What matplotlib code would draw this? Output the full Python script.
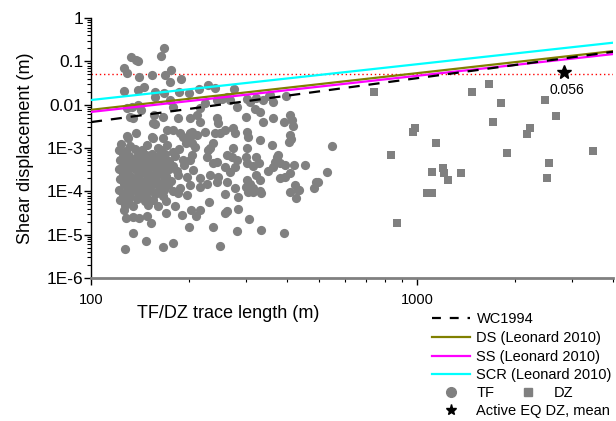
import numpy as np
import matplotlib
matplotlib.use('Agg')
import matplotlib.pyplot as plt
from matplotlib.lines import Line2D
from matplotlib.ticker import LogLocator, NullFormatter

plt.rcParams['font.family'] = ['Liberation Sans', 'DejaVu Sans']

# TF: trace length (m) and shear displacement (m)
tf_length = [
    168, 164, 133, 137, 139, 126, 129, 140, 154, 169, 176, 175, 189,
    126, 139, 145, 157, 157, 168, 175, 186, 200, 215, 229, 241, 274, 253, 262,
    302, 322, 353, 396, 362, 331, 308, 338, 355, 319,
    129, 134, 139, 142, 132, 135, 156, 166, 179, 185, 157, 171, 187, 216, 224,
    244, 268, 281, 212, 202, 216, 204, 212, 244, 246, 273, 277, 298, 338, 363,
    390, 409, 415, 418, 302, 304, 409, 412, 360, 551, 329, 406, 129, 130, 137,
    154, 149, 160, 191, 195, 204, 202, 236, 229, 249, 273,
    271, 298, 277, 302, 320, 327, 373, 381, 395, 419, 409, 395, 331, 320, 302,
    298, 262, 244, 227, 216, 237, 227, 455, 489, 529, 482, 376, 368, 362, 350,
    381, 424, 431, 409, 308, 314, 331, 302, 314,
    127, 166, 179, 135, 148, 200, 236, 249, 281, 333, 390, 306, 231, 283, 258,
    427, 496, 126, 128, 135, 140, 149, 153, 170, 181, 190, 203, 210, 216, 197,
    185, 283, 304, 314, 333, 434, 258, 262,
    155, 166, 155, 178, 202, 209, 204, 202, 224, 241, 258, 232, 244, 262, 281,
    258, 232, 246, 268, 277, 197, 191, 185, 216, 202, 188,
    124, 132, 171,
    122, 128, 136, 143, 164, 178, 186,
    125, 131, 139, 147, 154, 160, 169, 181,
    123, 129, 136, 144, 151, 158, 165, 173,
    126, 133, 140, 147, 155, 162, 170, 178, 193,
    122, 129, 136, 143, 150, 158, 166, 174, 183, 205,
    125, 132, 139, 146, 154, 162, 170,
    123, 129, 136, 143, 150, 158, 167, 176,
    126, 133, 140, 147, 155, 163, 172,
    122, 129, 136, 144, 152, 160, 168, 178,
    125, 132, 140, 148, 157, 166,
    123, 130, 138, 146, 155, 170,
    127, 135, 150, 160,
]
tf_disp = [
    0.20, 0.133, 0.126, 0.107, 0.10, 0.070, 0.054, 0.043, 0.048, 0.048, 0.063, 0.033, 0.039,
    0.0206, 0.0217, 0.0255, 0.0197, 0.015, 0.0187, 0.0128, 0.0197, 0.0187, 0.023, 0.028, 0.024, 0.023, 0.0135, 0.015,
    0.0135, 0.0142, 0.0158, 0.0158, 0.0115, 0.0068, 0.0115, 0.0128, 0.0167, 0.0079,
    0.0083, 0.0088, 0.0098, 0.0075, 0.0052, 0.0049, 0.0058, 0.0052, 0.0088, 0.0049, 0.0036, 0.0026, 0.0022, 0.0084, 0.011,
    0.0128, 0.0128, 0.0088, 0.0058, 0.0049, 0.0040, 0.0023, 0.002, 0.0049, 0.0038, 0.0029, 0.0022, 0.0052, 0.004, 0.0049,
    0.004, 0.0058, 0.0044, 0.0032, 0.0023, 0.0018, 0.002, 0.0016, 0.0012, 0.0011, 0.0015, 0.0014, 0.0019, 0.0017, 0.0022,
    0.0018, 0.0012, 0.0010, 0.0018, 0.0013, 0.0013, 0.0018, 0.0013, 8.9e-4, 0.0022, 0.001,
    6.2e-4, 6.2e-4, 3.6e-4, 4.5e-4, 6.2e-4, 4.5e-4, 6.2e-4, 4.5e-4, 4.0e-4, 4.0e-4, 2.6e-4, 2.1e-4, 1.8e-4, 2.4e-4, 1.8e-4,
    1.27e-4, 1.6e-4, 1.6e-4, 1.5e-4, 1.25e-4, 4.5e-4, 6.2e-4, 4.0e-4, 1.6e-4, 2.8e-4, 1.2e-4, 6.9e-4, 4.7e-4, 3.6e-4, 2.9e-4,
    2.0e-4, 1.4e-4, 1.1e-4, 9.7e-5, 1.5e-4, 1.2e-4, 1.0e-4, 1.0e-3, 3.8e-4,
    4.6e-6, 5.1e-6, 6.3e-6, 1.1e-5, 7.2e-6, 1.5e-5, 1.5e-5, 5.5e-6, 1.2e-5, 1.3e-5, 1.1e-5, 2.3e-5, 5.8e-5, 7.3e-5, 8.6e-5,
    7.0e-5, 1.6e-4, 3.7e-5, 2.4e-5, 2.6e-5, 2.4e-5, 2.7e-5, 1.9e-5, 3.1e-5, 4.5e-5, 2.8e-5, 3.7e-5, 2.7e-5, 3.8e-5, 8.2e-5,
    9.1e-5, 3.9e-5, 9.7e-5, 9.7e-5, 9.1e-5, 1.05e-4, 3.2e-5, 3.6e-5,
    0.0017, 0.0017, 0.0037, 0.0026, 0.0022, 0.00105, 6.9e-4, 5.3e-4, 0.0023, 0.0022, 0.0026, 0.001, 4.7e-4, 6.9e-4, 5.3e-4,
    3.6e-4, 2.4e-4, 2.1e-4, 2.8e-4, 1.2e-4, 2.1e-4, 5.3e-4, 2.4e-4, 2.0e-4, 1.4e-4, 1.2e-4,
    1.25e-3, 1.1e-3, 1.2e-3,
    9.2e-4, 8.5e-4, 9.5e-4, 8.8e-4, 9.0e-4, 8.2e-4, 9.4e-4,
    7.2e-4, 6.6e-4, 7.0e-4, 6.8e-4, 7.4e-4, 6.5e-4, 7.1e-4, 6.7e-4,
    5.4e-4, 5.0e-4, 5.6e-4, 5.2e-4, 5.5e-4, 5.1e-4, 5.6e-4, 5.0e-4,
    4.1e-4, 3.8e-4, 4.2e-4, 3.9e-4, 4.1e-4, 3.8e-4, 4.2e-4, 3.9e-4, 4.0e-4,
    3.2e-4, 3.0e-4, 3.3e-4, 2.9e-4, 3.1e-4, 3.3e-4, 2.9e-4, 3.2e-4, 3.0e-4, 3.1e-4,
    2.5e-4, 2.3e-4, 2.4e-4, 2.6e-4, 2.3e-4, 2.5e-4, 2.3e-4,
    1.9e-4, 1.7e-4, 1.85e-4, 1.75e-4, 1.9e-4, 1.7e-4, 1.8e-4, 1.75e-4,
    1.45e-4, 1.35e-4, 1.4e-4, 1.3e-4, 1.45e-4, 1.35e-4, 1.4e-4,
    1.1e-4, 1.0e-4, 1.08e-4, 1.02e-4, 1.1e-4, 1.0e-4, 1.05e-4, 1.02e-4,
    8.4e-5, 7.8e-5, 8.2e-5, 7.9e-5, 8.5e-5, 7.7e-5,
    6.4e-5, 6.0e-5, 6.5e-5, 6.1e-5, 6.2e-5, 6.0e-5,
    4.9e-5, 4.6e-5, 4.8e-5, 4.5e-5,
]

# DZ: trace length (m) and shear displacement (m)
dz_length = [737, 1477, 1665, 1813, 1714, 2477, 2678, 2227, 2180, 985, 972,
             1143, 832, 1892, 3480, 2547, 2512, 1112, 1202, 1210, 1245, 1365,
             1073, 1112, 867]
dz_disp = [0.0195, 0.0195, 0.030, 0.0109, 0.00396, 0.0128, 0.00546, 0.00288,
           0.0021, 0.00288, 0.00233, 0.0013, 6.9e-4, 7.6e-4, 8.5e-4, 4.5e-4,
           2.0e-4, 2.8e-4, 3.4e-4, 2.6e-4, 1.8e-4, 2.6e-4, 9.1e-5, 9.1e-5, 1.9e-5]

# active earthquake DZ mean
eq_length = [2830]
eq_disp = [0.056]
eq_label = '0.056'
ref_disp = 0.05

# scaling relations, end points at L = 100 m and 4000 m
rel_length = [100, 4000]
wc1994 = [0.00396, 0.166]
ds_leonard = [0.0076, 0.172]
ss_leonard = [0.0068, 0.147]
scr_leonard = [0.0128, 0.269]

GRAY = '#808080'

fig = plt.figure(figsize=(6.16, 4.21), dpi=100)
ax = fig.add_axes([91 / 616, 1 - 278 / 421, 522 / 616, 260 / 421])

ax.axhline(ref_disp, color='red', linestyle=(0, (1, 2)), linewidth=1.0, zorder=1)
ax.scatter(tf_length, tf_disp, s=44, marker='o', color=GRAY, linewidths=0, zorder=2)
ax.scatter(dz_length, dz_disp, s=30, marker='s', color=GRAY, linewidths=0, zorder=2)

ax.plot(rel_length, scr_leonard, color='#00ffff', linewidth=1.6, zorder=3)
ax.plot(rel_length, ds_leonard, color='#808000', linewidth=1.6, zorder=3)
ax.plot(rel_length, ss_leonard, color='#ff00ff', linewidth=1.6, zorder=3)
ax.plot(rel_length, wc1994, color='black', linewidth=1.6,
        linestyle=(0, (5, 4)), zorder=4)

ax.plot(eq_length, eq_disp, marker='*', color='black', markersize=10,
        linestyle='none', zorder=5)
ax.annotate(eq_label, (eq_length[0], eq_disp[0]), xytext=(2, -13),
            textcoords='offset points', ha='center', va='center', fontsize=10)

ax.set_xscale('log')
ax.set_yscale('log')
ax.set_xlim(100, 4000)
ax.set_ylim(1e-6, 1)

ax.set_yticks([1, 0.1, 0.01, 1e-3, 1e-4, 1e-5, 1e-6])
ax.set_yticklabels(['1', '0.1', '0.01', '1E-3', '1E-4', '1E-5', '1E-6'])
ax.yaxis.set_minor_locator(LogLocator(base=10, subs=np.arange(2, 10)))
ax.yaxis.set_minor_formatter(NullFormatter())
ax.set_xticks([100, 1000])
ax.set_xticklabels(['100', '1000'])
ax.xaxis.set_minor_locator(LogLocator(base=10, subs=np.arange(2, 10)))
ax.xaxis.set_minor_formatter(NullFormatter())

ax.tick_params(axis='y', which='major', length=5, width=1, labelsize=12.5, pad=0.5)
ax.tick_params(axis='y', which='minor', length=3, width=0.8)
ax.tick_params(axis='x', which='major', length=5, width=1, labelsize=10.5, pad=6)
ax.tick_params(axis='x', which='minor', length=3, width=0.8)

for side in ['top', 'right']:
    ax.spines[side].set_visible(False)
ax.spines['left'].set_linewidth(1.0)
ax.spines['bottom'].set_color(GRAY)
ax.spines['bottom'].set_linewidth(2.0)

ax.set_ylabel('Shear displacement (m)', fontsize=13, labelpad=9)
fig.text(228 / 616, 1 - 314 / 421, 'TF/DZ trace length (m)', fontsize=13,
         ha='center', va='center')

# legend, built from three blocks
line_handles = [
    Line2D([], [], color='black', linestyle=(0, (4, 4)), linewidth=1.6),
    Line2D([], [], color='#808000', linewidth=1.6),
    Line2D([], [], color='#ff00ff', linewidth=1.6),
    Line2D([], [], color='#00ffff', linewidth=1.6),
]
line_labels = ['WC1994', 'DS (Leonard 2010)', 'SS (Leonard 2010)', 'SCR (Leonard 2010)']
common = dict(frameon=False, fontsize=10.5, borderpad=0, borderaxespad=0,
              handlelength=2.6, handletextpad=0.45, labelspacing=0.33)
leg1 = fig.legend(line_handles, line_labels, loc='upper left',
                  bbox_to_anchor=(432 / 616, 1 - 312 / 421), **common)

pt_handles = [
    Line2D([], [], marker='o', color=GRAY, linestyle='none', markersize=7),
    Line2D([], [], marker='s', color=GRAY, linestyle='none', markersize=5.5),
]
leg2 = fig.legend(pt_handles, ['TF', 'DZ'], loc='upper left', ncol=2,
                  columnspacing=1.0,
                  bbox_to_anchor=(432 / 616, 1 - 386 / 421), **common)
star_handle = [Line2D([], [], marker='*', color='black', linestyle='none', markersize=8)]
leg3 = fig.legend(star_handle, ['Active EQ DZ, mean'], loc='upper left',
                  bbox_to_anchor=(432 / 616, 1 - 404 / 421), **common)

fig.savefig('out.png', dpi=100, facecolor='white')
